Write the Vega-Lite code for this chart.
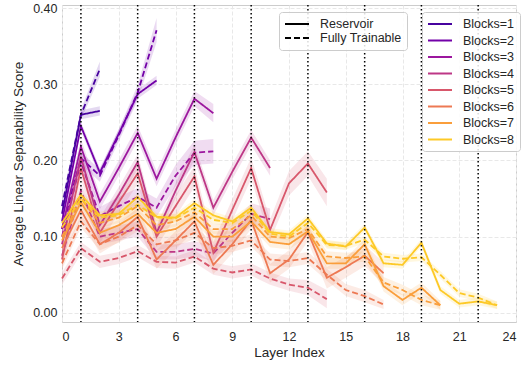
{
"$schema": "https://vega.github.io/schema/vega-lite/v6.json",
"autosize": {"type": "none"},
"width": 454, "height": 317,
"padding": {"left": 62, "top": 5, "right": 11, "bottom": 46},
"config": {
  "font": "Liberation Sans",
  "view": {"stroke": "#cccccc", "strokeWidth": 1},
  "axis": {"grid": true, "gridColor": "#e8e8e8", "gridDash": [4, 2], "domain": false, "ticks": false, "labelFontSize": 12.5, "labelColor": "#262626", "titleFontSize": 13.5, "titleColor": "#262626", "titleFontWeight": "normal", "labelPadding": 5}
},
"datasets": {
"v": [{"x": 1}, {"x": 4}, {"x": 7}, {"x": 10}, {"x": 13}, {"x": 16}, {"x": 19}, {"x": 22}],
"d": [
{"b":1,"t":"R","x":0,"y":0.13,"l":0.124,"h":0.136},
{"b":1,"t":"R","x":1,"y":0.26,"l":0.254,"h":0.266},
{"b":1,"t":"R","x":2,"y":0.265,"l":0.259,"h":0.271},
{"b":1,"t":"F","x":0,"y":0.14,"l":0.133,"h":0.147},
{"b":1,"t":"F","x":1,"y":0.26,"l":0.253,"h":0.267},
{"b":1,"t":"F","x":2,"y":0.32,"l":0.31,"h":0.33},
{"b":2,"t":"R","x":0,"y":0.12,"l":0.114,"h":0.126},
{"b":2,"t":"R","x":1,"y":0.245,"l":0.239,"h":0.251},
{"b":2,"t":"R","x":2,"y":0.184,"l":0.178,"h":0.19},
{"b":2,"t":"R","x":3,"y":0.235,"l":0.229,"h":0.241},
{"b":2,"t":"R","x":4,"y":0.287,"l":0.281,"h":0.293},
{"b":2,"t":"R","x":5,"y":0.305,"l":0.299,"h":0.311},
{"b":2,"t":"F","x":0,"y":0.11,"l":0.102,"h":0.118},
{"b":2,"t":"F","x":1,"y":0.203,"l":0.195,"h":0.211},
{"b":2,"t":"F","x":2,"y":0.18,"l":0.172,"h":0.188},
{"b":2,"t":"F","x":3,"y":0.233,"l":0.225,"h":0.241},
{"b":2,"t":"F","x":4,"y":0.289,"l":0.279,"h":0.299},
{"b":2,"t":"F","x":5,"y":0.371,"l":0.355,"h":0.387},
{"b":3,"t":"R","x":0,"y":0.11,"l":0.1,"h":0.12},
{"b":3,"t":"R","x":1,"y":0.218,"l":0.208,"h":0.228},
{"b":3,"t":"R","x":2,"y":0.146,"l":0.136,"h":0.156},
{"b":3,"t":"R","x":3,"y":0.19,"l":0.18,"h":0.2},
{"b":3,"t":"R","x":4,"y":0.236,"l":0.226,"h":0.246},
{"b":3,"t":"R","x":5,"y":0.176,"l":0.166,"h":0.186},
{"b":3,"t":"R","x":6,"y":0.23,"l":0.22,"h":0.24},
{"b":3,"t":"R","x":7,"y":0.281,"l":0.271,"h":0.291},
{"b":3,"t":"R","x":8,"y":0.262,"l":0.25,"h":0.274},
{"b":3,"t":"F","x":0,"y":0.1,"l":0.088,"h":0.112},
{"b":3,"t":"F","x":1,"y":0.198,"l":0.186,"h":0.21},
{"b":3,"t":"F","x":2,"y":0.127,"l":0.115,"h":0.139},
{"b":3,"t":"F","x":3,"y":0.14,"l":0.128,"h":0.152},
{"b":3,"t":"F","x":4,"y":0.152,"l":0.14,"h":0.164},
{"b":3,"t":"F","x":5,"y":0.138,"l":0.126,"h":0.15},
{"b":3,"t":"F","x":6,"y":0.18,"l":0.166,"h":0.194},
{"b":3,"t":"F","x":7,"y":0.21,"l":0.194,"h":0.226},
{"b":3,"t":"F","x":8,"y":0.212,"l":0.196,"h":0.228},
{"b":4,"t":"R","x":0,"y":0.09,"l":0.08,"h":0.1},
{"b":4,"t":"R","x":1,"y":0.205,"l":0.195,"h":0.215},
{"b":4,"t":"R","x":2,"y":0.115,"l":0.105,"h":0.125},
{"b":4,"t":"R","x":3,"y":0.155,"l":0.145,"h":0.165},
{"b":4,"t":"R","x":4,"y":0.198,"l":0.188,"h":0.208},
{"b":4,"t":"R","x":5,"y":0.105,"l":0.095,"h":0.115},
{"b":4,"t":"R","x":6,"y":0.16,"l":0.15,"h":0.17},
{"b":4,"t":"R","x":7,"y":0.211,"l":0.201,"h":0.221},
{"b":4,"t":"R","x":8,"y":0.138,"l":0.128,"h":0.148},
{"b":4,"t":"R","x":9,"y":0.185,"l":0.175,"h":0.195},
{"b":4,"t":"R","x":10,"y":0.23,"l":0.22,"h":0.24},
{"b":4,"t":"R","x":11,"y":0.19,"l":0.18,"h":0.2},
{"b":4,"t":"F","x":0,"y":0.075,"l":0.065,"h":0.085},
{"b":4,"t":"F","x":1,"y":0.16,"l":0.15,"h":0.17},
{"b":4,"t":"F","x":2,"y":0.1,"l":0.09,"h":0.11},
{"b":4,"t":"F","x":3,"y":0.105,"l":0.095,"h":0.115},
{"b":4,"t":"F","x":4,"y":0.11,"l":0.1,"h":0.12},
{"b":4,"t":"F","x":5,"y":0.08,"l":0.07,"h":0.09},
{"b":4,"t":"F","x":6,"y":0.08,"l":0.07,"h":0.09},
{"b":4,"t":"F","x":7,"y":0.084,"l":0.074,"h":0.094},
{"b":4,"t":"F","x":8,"y":0.078,"l":0.068,"h":0.088},
{"b":4,"t":"F","x":9,"y":0.105,"l":0.093,"h":0.117},
{"b":4,"t":"F","x":10,"y":0.13,"l":0.116,"h":0.144},
{"b":4,"t":"F","x":11,"y":0.123,"l":0.109,"h":0.137},
{"b":5,"t":"R","x":0,"y":0.07,"l":0.056,"h":0.084},
{"b":5,"t":"R","x":1,"y":0.19,"l":0.176,"h":0.204},
{"b":5,"t":"R","x":2,"y":0.105,"l":0.091,"h":0.119},
{"b":5,"t":"R","x":3,"y":0.145,"l":0.131,"h":0.159},
{"b":5,"t":"R","x":4,"y":0.183,"l":0.169,"h":0.197},
{"b":5,"t":"R","x":5,"y":0.1,"l":0.086,"h":0.114},
{"b":5,"t":"R","x":6,"y":0.14,"l":0.126,"h":0.154},
{"b":5,"t":"R","x":7,"y":0.179,"l":0.165,"h":0.193},
{"b":5,"t":"R","x":8,"y":0.079,"l":0.065,"h":0.093},
{"b":5,"t":"R","x":9,"y":0.135,"l":0.121,"h":0.149},
{"b":5,"t":"R","x":10,"y":0.19,"l":0.176,"h":0.204},
{"b":5,"t":"R","x":11,"y":0.109,"l":0.095,"h":0.123},
{"b":5,"t":"R","x":12,"y":0.17,"l":0.154,"h":0.186},
{"b":5,"t":"R","x":13,"y":0.196,"l":0.18,"h":0.212},
{"b":5,"t":"R","x":14,"y":0.158,"l":0.14,"h":0.176},
{"b":5,"t":"F","x":0,"y":0.045,"l":0.037,"h":0.053},
{"b":5,"t":"F","x":1,"y":0.085,"l":0.077,"h":0.093},
{"b":5,"t":"F","x":2,"y":0.067,"l":0.059,"h":0.075},
{"b":5,"t":"F","x":3,"y":0.072,"l":0.064,"h":0.08},
{"b":5,"t":"F","x":4,"y":0.081,"l":0.073,"h":0.089},
{"b":5,"t":"F","x":5,"y":0.067,"l":0.059,"h":0.075},
{"b":5,"t":"F","x":6,"y":0.066,"l":0.058,"h":0.074},
{"b":5,"t":"F","x":7,"y":0.074,"l":0.066,"h":0.082},
{"b":5,"t":"F","x":8,"y":0.058,"l":0.05,"h":0.066},
{"b":5,"t":"F","x":9,"y":0.053,"l":0.045,"h":0.061},
{"b":5,"t":"F","x":10,"y":0.057,"l":0.049,"h":0.065},
{"b":5,"t":"F","x":11,"y":0.045,"l":0.037,"h":0.053},
{"b":5,"t":"F","x":12,"y":0.037,"l":0.029,"h":0.045},
{"b":5,"t":"F","x":13,"y":0.033,"l":0.023,"h":0.043},
{"b":5,"t":"F","x":14,"y":0.018,"l":0.006,"h":0.03},
{"b":6,"t":"R","x":0,"y":0.085,"l":0.073,"h":0.097},
{"b":6,"t":"R","x":1,"y":0.135,"l":0.123,"h":0.147},
{"b":6,"t":"R","x":2,"y":0.09,"l":0.078,"h":0.102},
{"b":6,"t":"R","x":3,"y":0.105,"l":0.093,"h":0.117},
{"b":6,"t":"R","x":4,"y":0.126,"l":0.114,"h":0.138},
{"b":6,"t":"R","x":5,"y":0.07,"l":0.058,"h":0.082},
{"b":6,"t":"R","x":6,"y":0.095,"l":0.083,"h":0.107},
{"b":6,"t":"R","x":7,"y":0.12,"l":0.108,"h":0.132},
{"b":6,"t":"R","x":8,"y":0.063,"l":0.051,"h":0.075},
{"b":6,"t":"R","x":9,"y":0.09,"l":0.078,"h":0.102},
{"b":6,"t":"R","x":10,"y":0.122,"l":0.11,"h":0.134},
{"b":6,"t":"R","x":11,"y":0.052,"l":0.04,"h":0.064},
{"b":6,"t":"R","x":12,"y":0.07,"l":0.058,"h":0.082},
{"b":6,"t":"R","x":13,"y":0.106,"l":0.094,"h":0.118},
{"b":6,"t":"R","x":14,"y":0.046,"l":0.032,"h":0.06},
{"b":6,"t":"R","x":15,"y":0.06,"l":0.046,"h":0.074},
{"b":6,"t":"R","x":16,"y":0.075,"l":0.061,"h":0.089},
{"b":6,"t":"R","x":17,"y":0.052,"l":0.038,"h":0.066},
{"b":6,"t":"F","x":0,"y":0.065,"l":0.057,"h":0.073},
{"b":6,"t":"F","x":1,"y":0.12,"l":0.112,"h":0.128},
{"b":6,"t":"F","x":2,"y":0.09,"l":0.082,"h":0.098},
{"b":6,"t":"F","x":3,"y":0.1,"l":0.092,"h":0.108},
{"b":6,"t":"F","x":4,"y":0.115,"l":0.107,"h":0.123},
{"b":6,"t":"F","x":5,"y":0.09,"l":0.082,"h":0.098},
{"b":6,"t":"F","x":6,"y":0.095,"l":0.087,"h":0.103},
{"b":6,"t":"F","x":7,"y":0.105,"l":0.097,"h":0.113},
{"b":6,"t":"F","x":8,"y":0.085,"l":0.077,"h":0.093},
{"b":6,"t":"F","x":9,"y":0.088,"l":0.08,"h":0.096},
{"b":6,"t":"F","x":10,"y":0.095,"l":0.087,"h":0.103},
{"b":6,"t":"F","x":11,"y":0.07,"l":0.062,"h":0.078},
{"b":6,"t":"F","x":12,"y":0.068,"l":0.06,"h":0.076},
{"b":6,"t":"F","x":13,"y":0.072,"l":0.064,"h":0.08},
{"b":6,"t":"F","x":14,"y":0.05,"l":0.042,"h":0.058},
{"b":6,"t":"F","x":15,"y":0.03,"l":0.022,"h":0.038},
{"b":6,"t":"F","x":16,"y":0.022,"l":0.014,"h":0.03},
{"b":6,"t":"F","x":17,"y":0.011,"l":0.005,"h":0.017},
{"b":7,"t":"R","x":0,"y":0.095,"l":0.088,"h":0.102},
{"b":7,"t":"R","x":1,"y":0.145,"l":0.138,"h":0.152},
{"b":7,"t":"R","x":2,"y":0.105,"l":0.098,"h":0.112},
{"b":7,"t":"R","x":3,"y":0.115,"l":0.108,"h":0.122},
{"b":7,"t":"R","x":4,"y":0.13,"l":0.123,"h":0.137},
{"b":7,"t":"R","x":5,"y":0.105,"l":0.098,"h":0.112},
{"b":7,"t":"R","x":6,"y":0.11,"l":0.103,"h":0.117},
{"b":7,"t":"R","x":7,"y":0.126,"l":0.119,"h":0.133},
{"b":7,"t":"R","x":8,"y":0.1,"l":0.093,"h":0.107},
{"b":7,"t":"R","x":9,"y":0.1,"l":0.093,"h":0.107},
{"b":7,"t":"R","x":10,"y":0.12,"l":0.113,"h":0.127},
{"b":7,"t":"R","x":11,"y":0.093,"l":0.086,"h":0.1},
{"b":7,"t":"R","x":12,"y":0.09,"l":0.083,"h":0.097},
{"b":7,"t":"R","x":13,"y":0.107,"l":0.1,"h":0.114},
{"b":7,"t":"R","x":14,"y":0.065,"l":0.058,"h":0.072},
{"b":7,"t":"R","x":15,"y":0.065,"l":0.058,"h":0.072},
{"b":7,"t":"R","x":16,"y":0.09,"l":0.083,"h":0.097},
{"b":7,"t":"R","x":17,"y":0.035,"l":0.028,"h":0.042},
{"b":7,"t":"R","x":18,"y":0.017,"l":0.01,"h":0.024},
{"b":7,"t":"R","x":19,"y":0.033,"l":0.026,"h":0.04},
{"b":7,"t":"R","x":20,"y":0.01,"l":0.004,"h":0.016},
{"b":7,"t":"F","x":0,"y":0.1,"l":0.093,"h":0.107},
{"b":7,"t":"F","x":1,"y":0.15,"l":0.143,"h":0.157},
{"b":7,"t":"F","x":2,"y":0.118,"l":0.111,"h":0.125},
{"b":7,"t":"F","x":3,"y":0.125,"l":0.118,"h":0.132},
{"b":7,"t":"F","x":4,"y":0.14,"l":0.133,"h":0.147},
{"b":7,"t":"F","x":5,"y":0.115,"l":0.108,"h":0.122},
{"b":7,"t":"F","x":6,"y":0.12,"l":0.113,"h":0.127},
{"b":7,"t":"F","x":7,"y":0.132,"l":0.125,"h":0.139},
{"b":7,"t":"F","x":8,"y":0.11,"l":0.103,"h":0.117},
{"b":7,"t":"F","x":9,"y":0.11,"l":0.103,"h":0.117},
{"b":7,"t":"F","x":10,"y":0.128,"l":0.121,"h":0.135},
{"b":7,"t":"F","x":11,"y":0.1,"l":0.093,"h":0.107},
{"b":7,"t":"F","x":12,"y":0.098,"l":0.091,"h":0.105},
{"b":7,"t":"F","x":13,"y":0.11,"l":0.103,"h":0.117},
{"b":7,"t":"F","x":14,"y":0.074,"l":0.067,"h":0.081},
{"b":7,"t":"F","x":15,"y":0.072,"l":0.065,"h":0.079},
{"b":7,"t":"F","x":16,"y":0.074,"l":0.067,"h":0.081},
{"b":7,"t":"F","x":17,"y":0.04,"l":0.033,"h":0.047},
{"b":7,"t":"F","x":18,"y":0.03,"l":0.023,"h":0.037},
{"b":7,"t":"F","x":19,"y":0.017,"l":0.01,"h":0.024},
{"b":7,"t":"F","x":20,"y":0.01,"l":0.004,"h":0.016},
{"b":8,"t":"R","x":0,"y":0.118,"l":0.113,"h":0.123},
{"b":8,"t":"R","x":1,"y":0.155,"l":0.15,"h":0.16},
{"b":8,"t":"R","x":2,"y":0.128,"l":0.123,"h":0.133},
{"b":8,"t":"R","x":3,"y":0.13,"l":0.125,"h":0.135},
{"b":8,"t":"R","x":4,"y":0.152,"l":0.147,"h":0.157},
{"b":8,"t":"R","x":5,"y":0.126,"l":0.121,"h":0.131},
{"b":8,"t":"R","x":6,"y":0.125,"l":0.12,"h":0.13},
{"b":8,"t":"R","x":7,"y":0.144,"l":0.139,"h":0.149},
{"b":8,"t":"R","x":8,"y":0.128,"l":0.123,"h":0.133},
{"b":8,"t":"R","x":9,"y":0.12,"l":0.115,"h":0.125},
{"b":8,"t":"R","x":10,"y":0.138,"l":0.133,"h":0.143},
{"b":8,"t":"R","x":11,"y":0.106,"l":0.101,"h":0.111},
{"b":8,"t":"R","x":12,"y":0.103,"l":0.098,"h":0.108},
{"b":8,"t":"R","x":13,"y":0.124,"l":0.119,"h":0.129},
{"b":8,"t":"R","x":14,"y":0.091,"l":0.086,"h":0.096},
{"b":8,"t":"R","x":15,"y":0.087,"l":0.082,"h":0.092},
{"b":8,"t":"R","x":16,"y":0.112,"l":0.107,"h":0.117},
{"b":8,"t":"R","x":17,"y":0.065,"l":0.06,"h":0.07},
{"b":8,"t":"R","x":18,"y":0.063,"l":0.058,"h":0.068},
{"b":8,"t":"R","x":19,"y":0.092,"l":0.087,"h":0.097},
{"b":8,"t":"R","x":20,"y":0.03,"l":0.025,"h":0.035},
{"b":8,"t":"R","x":21,"y":0.012,"l":0.007,"h":0.017},
{"b":8,"t":"R","x":22,"y":0.015,"l":0.01,"h":0.02},
{"b":8,"t":"R","x":23,"y":0.01,"l":0.005,"h":0.015},
{"b":8,"t":"F","x":0,"y":0.112,"l":0.107,"h":0.117},
{"b":8,"t":"F","x":1,"y":0.15,"l":0.145,"h":0.155},
{"b":8,"t":"F","x":2,"y":0.125,"l":0.12,"h":0.13},
{"b":8,"t":"F","x":3,"y":0.128,"l":0.123,"h":0.133},
{"b":8,"t":"F","x":4,"y":0.142,"l":0.137,"h":0.147},
{"b":8,"t":"F","x":5,"y":0.125,"l":0.12,"h":0.13},
{"b":8,"t":"F","x":6,"y":0.124,"l":0.119,"h":0.129},
{"b":8,"t":"F","x":7,"y":0.138,"l":0.133,"h":0.143},
{"b":8,"t":"F","x":8,"y":0.122,"l":0.117,"h":0.127},
{"b":8,"t":"F","x":9,"y":0.118,"l":0.113,"h":0.123},
{"b":8,"t":"F","x":10,"y":0.134,"l":0.129,"h":0.139},
{"b":8,"t":"F","x":11,"y":0.104,"l":0.099,"h":0.109},
{"b":8,"t":"F","x":12,"y":0.1,"l":0.095,"h":0.105},
{"b":8,"t":"F","x":13,"y":0.118,"l":0.113,"h":0.123},
{"b":8,"t":"F","x":14,"y":0.089,"l":0.084,"h":0.094},
{"b":8,"t":"F","x":15,"y":0.088,"l":0.083,"h":0.093},
{"b":8,"t":"F","x":16,"y":0.096,"l":0.091,"h":0.101},
{"b":8,"t":"F","x":17,"y":0.074,"l":0.069,"h":0.079},
{"b":8,"t":"F","x":18,"y":0.071,"l":0.066,"h":0.076},
{"b":8,"t":"F","x":19,"y":0.073,"l":0.068,"h":0.078},
{"b":8,"t":"F","x":20,"y":0.05,"l":0.045,"h":0.055},
{"b":8,"t":"F","x":21,"y":0.026,"l":0.021,"h":0.031},
{"b":8,"t":"F","x":22,"y":0.02,"l":0.015,"h":0.025},
{"b":8,"t":"F","x":23,"y":0.01,"l":0.005,"h":0.015}
]
},
"layer": [
{
  "data": {"name": "d"},
  "mark": {"type": "area", "fillOpacity": 0.15},
  "encoding": {
    "x": {"field": "x", "type": "quantitative", "scale": {"domain": [0, 24], "nice": false}, "axis": {"values": [0, 3, 6, 9, 12, 15, 18, 21, 24], "title": "Layer Index", "titlePadding": 3, "labelPadding": 8}},
    "y": {"field": "l", "type": "quantitative", "scale": {"domain": [-0.012, 0.404], "nice": false, "zero": false}, "axis": {"values": [0, 0.05, 0.1, 0.15, 0.2, 0.25, 0.3, 0.35, 0.4], "format": ".2f", "title": "Average Linear Separability Score", "titlePadding": 7}},
    "y2": {"field": "h"},
    "color": {"field": "b", "type": "nominal", "scale": {"domain": [1, 2, 3, 4, 5, 6, 7, 8], "range": ["#47039f", "#7201a8", "#9c179e", "#bd3786", "#d8576b", "#ed7953", "#fa9e3b", "#fdc926"]}},
    "detail": {"field": "t"}
  }
},
{
  "data": {"name": "d"},
  "mark": {"type": "line", "strokeWidth": 1.8},
  "encoding": {
    "x": {"field": "x", "type": "quantitative"},
    "y": {"field": "y", "type": "quantitative"},
    "color": {"field": "b", "type": "nominal", "legend": {"orient": "none", "legendX": 360, "legendY": 7, "title": null, "labelExpr": "'Blocks=' + datum.label", "symbolType": "M-1,0H3", "symbolSize": 144, "symbolStrokeWidth": 2, "symbolOpacity": 1, "symbolFillColor": "transparent", "labelFontSize": 12.5, "labelColor": "#262626", "fillColor": "rgba(255,255,255,0.85)", "strokeColor": "#cccccc", "cornerRadius": 3, "padding": 5, "rowPadding": 2.5, "labelOffset": 22}},
    "strokeDash": {"field": "t", "type": "nominal", "scale": {"domain": ["R", "F"], "range": [[1, 0], [6, 3]]}, "legend": {"orient": "none", "legendX": 217, "legendY": 7, "title": null, "labelExpr": "datum.label == 'R' ? 'Reservoir' : 'Fully Trainable'", "symbolType": "M-1,0H3", "symbolSize": 144, "symbolStrokeWidth": 2, "symbolStrokeColor": "black", "symbolOpacity": 1, "symbolFillColor": "transparent", "labelFontSize": 12.5, "labelColor": "#262626", "fillColor": "rgba(255,255,255,0.85)", "strokeColor": "#cccccc", "cornerRadius": 3, "padding": 5, "rowPadding": 0, "labelOffset": 22}}
  }
},
{
  "data": {"name": "v"},
  "mark": {"type": "rule", "strokeDash": [1.5, 2.5], "strokeWidth": 1.5, "color": "black"},
  "encoding": {"x": {"field": "x", "type": "quantitative"}}
}
]
}
